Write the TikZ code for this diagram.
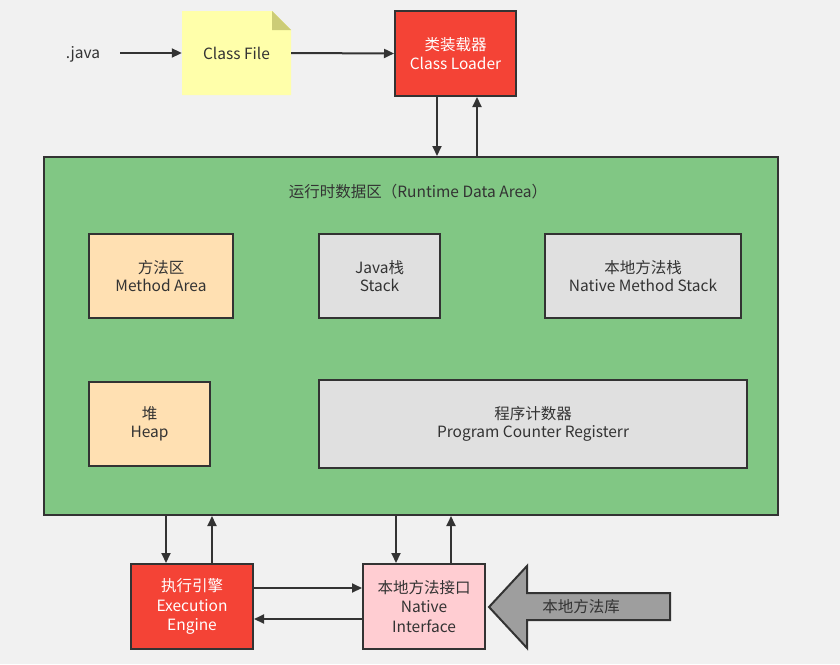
\documentclass[tikz,border=0pt]{standalone}
\usepackage{fontspec}
\setmainfont{Noto Sans CJK SC}
\usetikzlibrary{arrows.meta,shapes.arrows}
\definecolor{bg}{HTML}{F1F1F1}
\definecolor{ln}{HTML}{333333}
\definecolor{notey}{HTML}{FFFFAA}
\definecolor{notefold}{HTML}{CCCC77}
\definecolor{redbox}{HTML}{F44336}
\definecolor{greenarea}{HTML}{81C784}
\definecolor{orangebox}{HTML}{FFE0B2}
\definecolor{greybox}{HTML}{E0E0E0}
\definecolor{pinkbox}{HTML}{FFCDD2}
\definecolor{bigarrow}{HTML}{9E9E9E}
\definecolor{txt}{HTML}{333333}
\begin{document}
\begin{tikzpicture}[x=1pt,y=-1pt,
  every node/.style={font=\fontsize{15.5}{18.5}\selectfont, text=txt, align=center},
  box/.style={draw=ln, line width=2pt, inner sep=0pt},
  redb/.style={box, fill=redbox, text=white, font=\fontsize{15.5}{19.5}\selectfont},
  conn/.style={draw=ln, line width=2pt, -{Triangle[length=10pt,width=9pt]}}]
\fill[bg] (0,0) rectangle (840,664);
\useasboundingbox (0,0) rectangle (840,664);
% .java
\node (java) at (83,54) {.java};
\coordinate (javaR) at (120,53);
% Class File note
\fill[notey] (182,11) -- (272,11) -- (291,30) -- (291,95) -- (182,95) -- cycle;
\fill[notefold] (272,11) -- (291,30) -- (272,30) -- cycle;
\node[minimum width=109pt, minimum height=84pt, inner sep=0pt] (cf) at (236.5,53) {Class File};
% Class Loader
\node[redb, minimum width=121pt, minimum height=85pt] (cl) at (455.5,53.5) {类装载器\\Class Loader};
% Runtime area
\node[box, fill=greenarea, minimum width=734pt, minimum height=358pt] (rt) at (411,336) {};
\node (rtt) at (418,192) {运行时数据区（Runtime Data Area）};
\node[box, fill=orangebox, minimum width=144pt, minimum height=84pt] (ma) at (161,276) {方法区\\Method Area};
\node[box, fill=greybox, minimum width=121pt, minimum height=84pt] (js) at (379.5,276) {Java栈\\Stack};
\node[box, fill=greybox, minimum width=196pt, minimum height=84pt] (ns) at (643,276) {本地方法栈\\Native Method Stack};
\node[box, fill=orangebox, minimum width=121pt, minimum height=84pt] (hp) at (149.5,424) {堆\\Heap};
\node[box, fill=greybox, minimum width=428pt, minimum height=88pt] (pc) at (533,424) {程序计数器\\Program Counter Registerr};
% Execution engine & native interface
\node[redb, minimum width=122pt, minimum height=85pt] (ee) at (192,606.5) {执行引擎\\Execution\\Engine};
\node[box, fill=pinkbox, minimum width=122pt, minimum height=85pt, font=\fontsize{15.5}{19.5}\selectfont] (ni) at (424,606.5) {本地方法接口\\Native\\Interface};
% Big arrow
\draw[ln, line width=2pt, fill=bigarrow, line join=miter] (489,607) -- (527,566) -- (527,593) -- (670,593) -- (670,620) -- (527,620) -- (527,648) -- cycle;
\node (lib) at (581,607) {本地方法库};
% connectors
\draw[conn] (javaR) -- (cf.west);
\draw[conn] (cf.east) -- (cl.west);
\draw[conn] (cl.south -| 437,0) -- (rt.north -| 437,0);
\draw[conn] (rt.north -| 477,0) -- (cl.south -| 477,0);
\draw[conn] (rt.south -| 166,0) -- (ee.north -| 166,0);
\draw[conn] (ee.north -| 212,0) -- (rt.south -| 212,0);
\draw[conn] (rt.south -| 396,0) -- (ni.north -| 396,0);
\draw[conn] (ni.north -| 451,0) -- (rt.south -| 451,0);
\draw[conn] (ee.east |- 0,588) -- (ni.west |- 0,588);
\draw[conn] (ni.west |- 0,619) -- (ee.east |- 0,619);
\end{tikzpicture}
\end{document}
